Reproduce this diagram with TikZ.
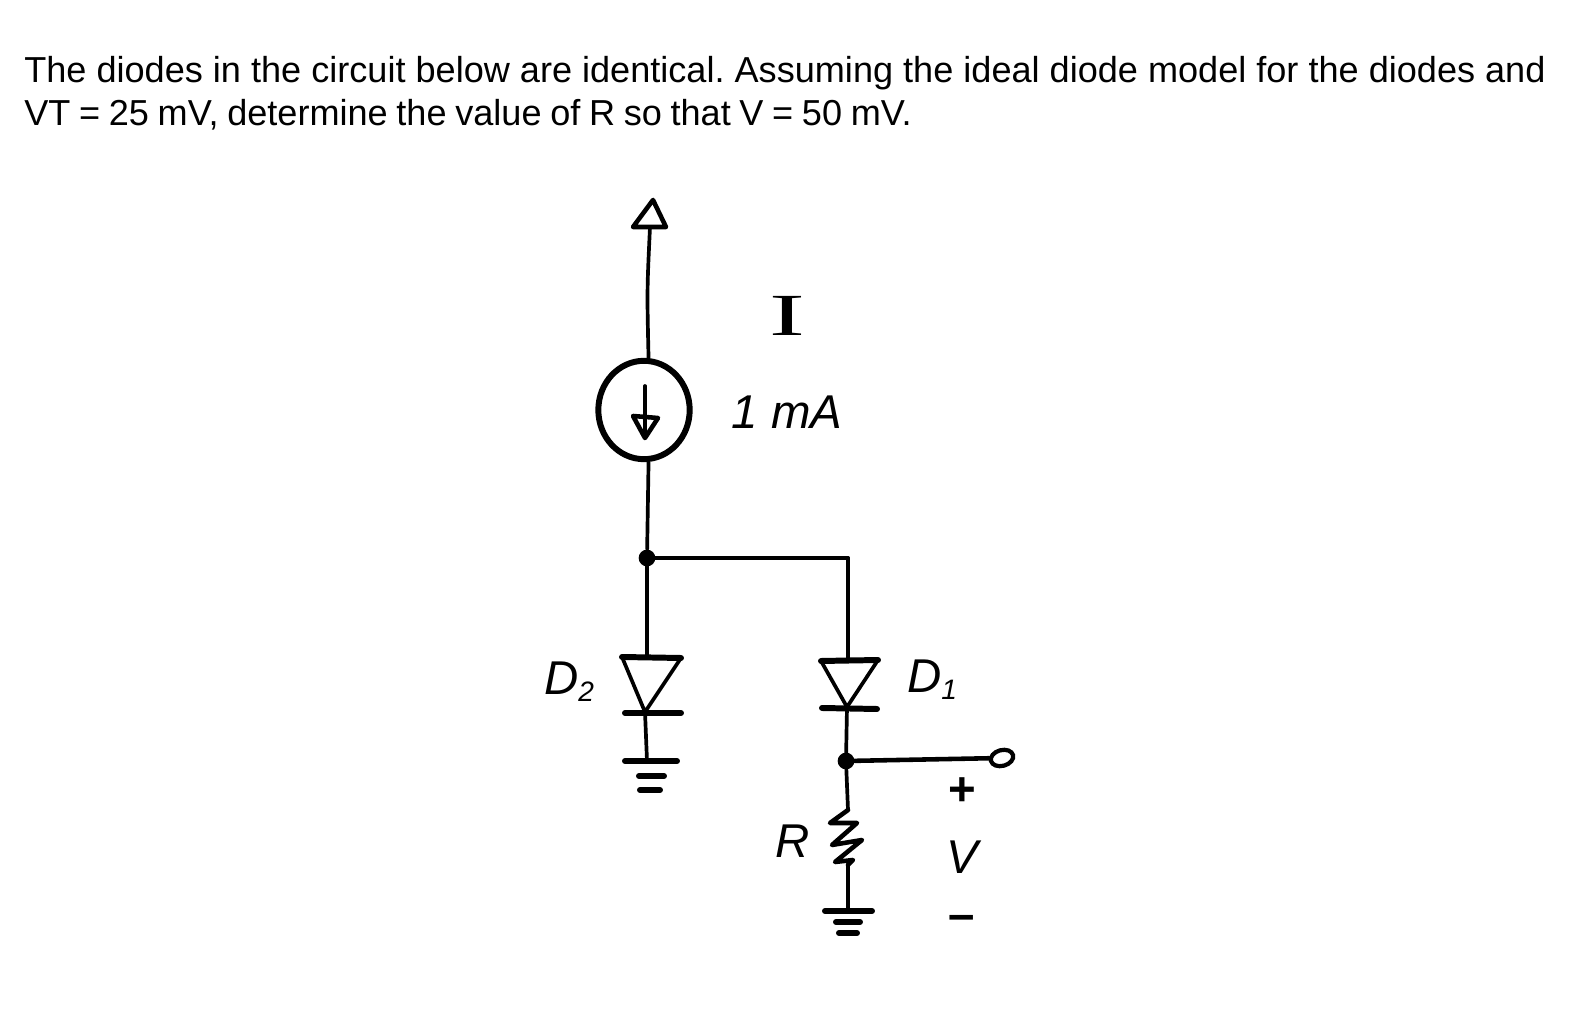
\documentclass[tikz,border=0pt]{standalone}
\usepackage{fontspec}
\usepackage{tkz-euclide}
\usetikzlibrary{shapes.geometric}
\setmainfont{Liberation Sans}
\newfontfamily\serifhand{Liberation Serif}
\newcommand{\handsub}[1]{\raisebox{-4pt}{\fontsize{16}{18}\selectfont #1}}
\tikzset{
  wire/.style={line width=2.1pt,line cap=round,line join=round},
  mid/.style={line width=2.6pt,line cap=round,line join=round},
  heavy/.style={line width=3.4pt,line cap=round,line join=round},
  statement/.style={anchor=base west,inner sep=0pt,font=\fontsize{20.55}{24}\selectfont\frenchspacing},
  hand/.style={inner sep=0pt,font=\fontsize{27}{30}\selectfont\itshape},
  handsign/.style={inner sep=0pt,font=\fontsize{27}{30}\selectfont\bfseries},
  junction/.style={circle,fill=black,inner sep=0pt,minimum size=9.5pt}
}
\begin{document}
\begin{tikzpicture}[x=0.02cm,y=-0.02cm]
    \useasboundingbox (0,0) rectangle (1575,1026);
    % Points
    \tkzDefPoint(653,200){tip}
    \tkzDefPoint(633,227){tl}
    \tkzDefPoint(666,227){tr}
    \tkzDefPoint(650,227){tb}
    \tkzDefPoint(645,386){at}
    \tkzDefPoint(633,416){al}
    \tkzDefPoint(658,418){ar}
    \tkzDefPoint(645,438){ah}
    \tkzDefPoint(647,558){n}
    \tkzDefPoint(848,558){m}
    \tkzDefPoint(647,657){pa}
    \tkzDefPoint(622,657){pb}
    \tkzDefPoint(681,658){pc}
    \tkzDefPoint(645,712){pd}
    \tkzDefPoint(625,713){pe}
    \tkzDefPoint(681,713){pf}
    \tkzDefPoint(647,761){pg}
    \tkzDefPoint(625,761){g1}
    \tkzDefPoint(677,761){g2}
    \tkzDefPoint(639,776){g3}
    \tkzDefPoint(664,776){g4}
    \tkzDefPoint(640,790){g5}
    \tkzDefPoint(660,790){g6}
    \tkzDefPoint(848,660){qa}
    \tkzDefPoint(821,661){qb}
    \tkzDefPoint(878,660){qc}
    \tkzDefPoint(847,707){qd}
    \tkzDefPoint(822,708){qe}
    \tkzDefPoint(877,709){qf}
    \tkzDefPoint(846,761){v}
    \tkzDefPoint(848,810){r1}
    \tkzDefPoint(830,823){r2}
    \tkzDefPoint(857,823){r3}
    \tkzDefPoint(832,845){r4}
    \tkzDefPoint(862,840){r5}
    \tkzDefPoint(835,862){r6}
    \tkzDefPoint(853,860){r7}
    \tkzDefPoint(848,865){r8}
    \tkzDefPoint(848,911){rg}
    \tkzDefPoint(825,911){h1}
    \tkzDefPoint(872,911){h2}
    \tkzDefPoint(836,922){h3}
    \tkzDefPoint(860,922){h4}
    \tkzDefPoint(839,933){h5}
    \tkzDefPoint(857,933){h6}
    % Nodes
    \node[draw,ellipse,line width=3.4pt,minimum width=52pt,minimum height=56pt,inner sep=0pt] (source) at (644,410) {};
    \node[draw,ellipse,rotate=15,line width=2.4pt,minimum width=13pt,minimum height=9pt,inner sep=0pt] (out) at (1002,758) {};
    \node[junction] (nj) at (n) {};
    \node[junction] (vj) at (v) {};
    % Drawing
    \draw[wire] (tb) .. controls (647,290) .. (source.85);
    \draw[wire] (source.-85) -- (nj);
    \draw[mid] (vj) -- (out);
    \tkzDrawPolygon[mid](tip,tl,tr)
    \tkzDrawPolygon[mid](ah,al,ar)
    \tkzDrawPolygon[wire](pd,pb,pc)
    \tkzDrawPolygon[wire](qd,qb,qc)
    \tkzDrawSegments[wire](at,ah n,m n,pa m,qa pd,pg qd,v v,r1 r8,rg)
    \tkzDrawSegments[heavy](pb,pc qb,qc pe,pf g1,g2 g3,g4 g5,g6 qe,qf h1,h2 h3,h4 h5,h6)
    \draw[mid] (r1) -- (r2) -- (r3) -- (r4) -- (r5) -- (r6) -- (r7) -- (r8);
    % Labels
    \node[statement] (line1) at (24,83) {The diodes in the circuit below are identical. Assuming the ideal diode model for the diodes and};
    \node[statement] (line2) at (24,126) {\spaceskip=0.24em VT = 25 mV, determine the value of R so that V = 50 mV.};
    \node[inner sep=0pt,xscale=1.8,font=\fontsize{34}{36}\selectfont\serifhand] (curr) at (787,316) {I};
    \node[hand] (val) at (787,412) {1 mA};
    \node[hand] (d2) at (569,682) {D\handsub{2}};
    \node[hand] (d1) at (932,680) {D\handsub{1}};
    \node[hand] (res) at (793,841) {R};
    \node[hand] (vout) at (962,857) {V};
    \node[handsign] (plus) at (962,792) {+};
    \node[handsign] (minus) at (962,923) {–};
  \end{tikzpicture}
\end{document}
